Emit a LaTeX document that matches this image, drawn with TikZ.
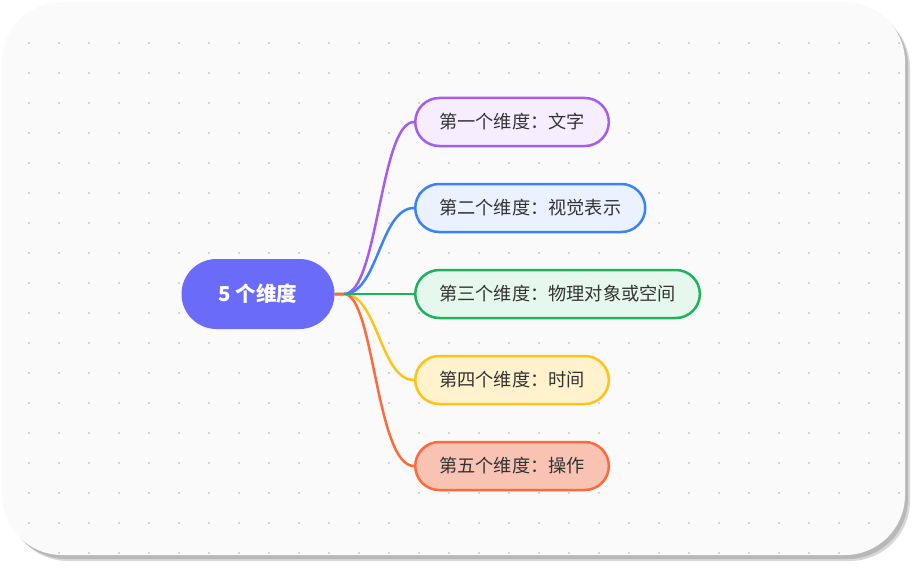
\documentclass[tikz,border=0pt]{standalone}
\usepackage{fontspec}
\setmainfont{Noto Sans CJK SC}
\usetikzlibrary{positioning}
\definecolor{rootblue}{HTML}{6B6BFA}
\definecolor{cpurple}{HTML}{A65BF2}
\definecolor{fpurple}{HTML}{F6EEFF}
\definecolor{cblue}{HTML}{3B82F6}
\definecolor{fblue}{HTML}{EAF2FF}
\definecolor{cgreen}{HTML}{1DB35A}
\definecolor{fgreen}{HTML}{E6F8EE}
\definecolor{cyellow}{HTML}{FFC21A}
\definecolor{fyellow}{HTML}{FFF2CC}
\definecolor{corange}{HTML}{FF6A3D}
\definecolor{forange}{HTML}{F9C3B3}
\definecolor{dotgray}{HTML}{C8C8C8}
\tikzset{
  root/.style={fill=rootblue, text=white, font=\fontsize{20.5}{24}\selectfont\bfseries,
    rounded corners=35pt, minimum width=153pt, minimum height=70pt},
  leaf/.style={draw=#1, line width=2.5pt, rounded corners=24pt, minimum height=48pt,
    inner xsep=24pt, anchor=west, font=\fontsize{18.2}{21}\selectfont, text=black!80},
  branch/.style={draw=#1, line width=2.5pt}
}
\begin{document}
\begin{tikzpicture}[x=1pt,y=-1pt]
\useasboundingbox (0,0) rectangle (915,567);
% card and shadow
\fill[black!30, opacity=0.5, rounded corners=60pt] (8,8) rectangle (910,561);
\fill[black!40, opacity=0.5, rounded corners=60pt] (6,6) rectangle (908,559);
\fill[white!98!black, rounded corners=60pt] (2,2) rectangle (905,555);
\begin{scope}
\clip[rounded corners=60pt] (2,2) rectangle (905,555);
\foreach \x in {29,59,...,899}
  \foreach \y in {43,73,...,553}
    \fill[dotgray] (\x,\y) circle (1.2pt);
\end{scope}
% nodes
\node[root] (root) at (258,294) {5 个维度};
\node[leaf=cpurple, fill=fpurple] (d1) at (414,122) {第一个维度：文字};
\node[leaf=cblue, fill=fblue] (d2) at (414,208) {第二个维度：视觉表示};
\node[leaf=cgreen, fill=fgreen] (d3) at (414,294) {第三个维度：物理对象或空间};
\node[leaf=cyellow, fill=fyellow] (d4) at (414,380) {第四个维度：时间};
\node[leaf=corange, fill=forange] (d5) at (414,466) {第五个维度：操作};
% connectors
\coordinate (hub) at (344,294);
\draw[branch=cpurple] (root.east) -- (hub) .. controls +(34,0) and +(-34,0) .. (d1.west);
\draw[branch=cblue] (root.east) -- (hub) .. controls +(34,0) and +(-34,0) .. (d2.west);
\draw[branch=cyellow] (root.east) -- (hub) .. controls +(34,0) and +(-34,0) .. (d4.west);
\draw[branch=corange] (root.east) -- (hub) .. controls +(30,0) and +(-38,0) .. (d5.west);
\draw[branch=cgreen] (hub) -- (d3.west);
\end{tikzpicture}
\end{document}
